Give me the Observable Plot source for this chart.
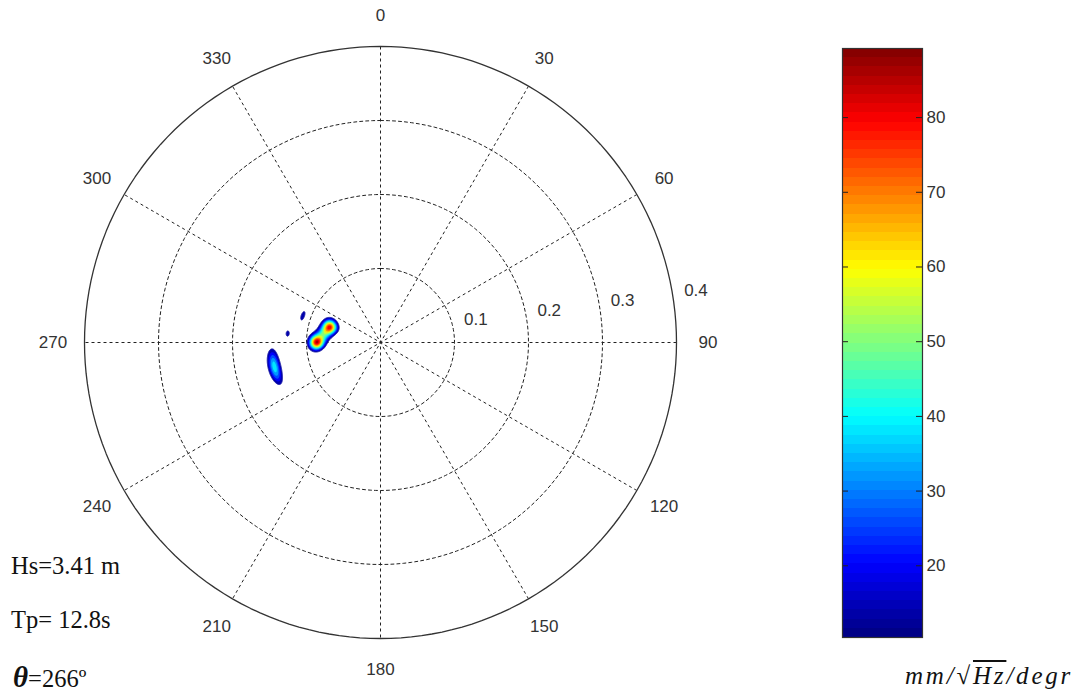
<!DOCTYPE html>
<html>
<head>
<meta charset="utf-8">
<script src="https://cdn.jsdelivr.net/npm/d3@7"></script>
<script src="https://cdn.jsdelivr.net/npm/@observablehq/plot@0.6"></script>
<style>
  html, body { margin: 0; padding: 0; background: #fff; }
  #wrap { position: relative; width: 1078px; height: 696px; background: #fff; overflow: hidden; }
  #wrap > .layer { position: absolute; left: 0; top: 0; }
  .unit { position: absolute; left: 905px; top: 663px; font-family: "Liberation Serif", "DejaVu Serif", serif;
          font-style: italic; font-size: 25px; line-height: 1; color: #111; white-space: nowrap; letter-spacing: 2.8px; }
  .unit .ov { text-decoration: overline; }
</style>
</head>
<body>
<div id="wrap"></div>
<script>
// Polar grid: frequency rings (Hz), spokes (degrees) and direction labels
const ringValues = [0.1, 0.2, 0.3, 0.4];
const spokeAngles = [0, 30, 60, 90, 120, 150];
const directionLabels = [0, 30, 60, 90, 120, 150, 180, 210, 240, 270, 300, 330];

// Spectral peaks: direction (deg, clockwise from north), frequency (Hz),
// peak density, frequency spread (Hz) and directional spread (deg)
const peakDirection = [287, 270, 277.6, 257, 289, 275.5];
const peakFrequency = [0.0716, 0.0865, 0.0783, 0.147, 0.111, 0.126];
const peakDensity = [80, 82, 34, 42, 17, 16.5];
const peakFreqSpread = [0.0068, 0.0068, 0.0070, 0.0059, 0.0036, 0.0036];
const peakDirSpread = [5.4, 4.5, 5.2, 6.5, 4.9, 2.8];

// Contour levels and colour bar
const contourLevels = [14, 20, 26, 32, 38, 44, 50, 56, 62, 68, 74, 80, 86];
const colorDomain = [10.4, 89.25];
const colorTicks = [20, 30, 40, 50, 60, 70, 80];

// Annotations
const statsLines = ["Hs=3.41 m", "Tp= 12.8s"];
const meanDirection = "=266º";

// MATLAB-style jet colormap
function jet(t) {
  const c = v => Math.max(0, Math.min(1, v));
  const r = c(1.5 - Math.abs(4 * t - 3));
  const g = c(1.5 - Math.abs(4 * t - 2));
  const b = c(1.5 - Math.abs(4 * t - 1));
  return `rgb(${Math.round(r * 255)},${Math.round(g * 255)},${Math.round(b * 255)})`;
}
const colorOpts = {type: "linear", domain: colorDomain, interpolate: jet};

const rad = Math.PI / 180;
const toXY = (deg, f) => [f * Math.sin(deg * rad), f * Math.cos(deg * rad)];

// Directional spectrum sampled on a Cartesian grid around the peaks
const gx1 = -0.2, gx2 = 0.0, gy1 = -0.1, gy2 = 0.1, nx = 400, ny = 400;
const grid = new Float64Array(nx * ny);
for (let j = 0; j < ny; ++j) {
  const y = gy1 + (j + 0.5) * (gy2 - gy1) / ny;
  for (let i = 0; i < nx; ++i) {
    const x = gx1 + (i + 0.5) * (gx2 - gx1) / nx;
    const f = Math.hypot(x, y);
    const dir = (Math.atan2(x, y) / rad + 360) % 360;
    let v = 0;
    for (let k = 0; k < peakDirection.length; ++k) {
      let dd = dir - peakDirection[k];
      dd = ((dd + 540) % 360) - 180;
      const df = f - peakFrequency[k];
      v += peakDensity[k] * Math.exp(-(df * df) / (2 * peakFreqSpread[k] ** 2) - (dd * dd) / (2 * peakDirSpread[k] ** 2));
    }
    grid[j * nx + i] = v;
  }
}

// Grid geometry
const rings = ringValues.flatMap(r => d3.range(0, 361, 2).map(a => {
  const [x, y] = toXY(a, r);
  return {ring: r, x, y};
}));
const spokes = spokeAngles.map(a => {
  const [x, y] = toXY(a, 0.4);
  return {x1: x, y1: y, x2: -x, y2: -y};
});
const dirLabelData = directionLabels.map(a => {
  const [x, y] = toXY(a, 0.4425);
  return {a, x, y};
});
const ringLabelData = ringValues.map(r => {
  const [x, y] = toXY(82.5, r);
  return {r, x, y};
});

const textStyle = {fontFamily: "'Liberation Sans', Arial, sans-serif", fontSize: "17px", background: "transparent", overflow: "visible"};

const polar = Plot.plot({
  width: 1078, height: 696,
  marginLeft: 84, marginRight: 402, marginTop: 46, marginBottom: 58,
  x: {domain: [-0.4, 0.4], axis: null},
  y: {domain: [-0.4, 0.4], axis: null},
  color: colorOpts,
  style: textStyle,
  marks: [
    Plot.line(rings.filter(d => d.ring < 0.4), {x: "x", y: "y", z: "ring", stroke: "#222", strokeWidth: 1, strokeDasharray: "3,3"}),
    Plot.link(spokes, {x1: "x1", y1: "y1", x2: "x2", y2: "y2", stroke: "#222", strokeWidth: 1, strokeDasharray: "3,3"}),
    Plot.line(rings.filter(d => d.ring === 0.4), {x: "x", y: "y", stroke: "#333", strokeWidth: 1.3}),
    Plot.contour(grid, {width: nx, height: ny, x1: gx1, x2: gx2, y1: gy1, y2: gy2, fill: Plot.identity, thresholds: contourLevels}),
    Plot.contour(grid, {width: nx, height: ny, x1: gx1, x2: gx2, y1: gy1, y2: gy2, value: Plot.identity, thresholds: [14], fill: "none", stroke: "#1a1aa8", strokeWidth: 1}),
    Plot.text(dirLabelData, {x: "x", y: "y", text: d => String(d.a), fill: "#333", textAnchor: "middle", lineAnchor: "middle"}),
    Plot.text(ringLabelData, {x: "x", y: "y", text: d => String(d.r), fill: "#333", textAnchor: "middle", lineAnchor: "middle", dx: 22, dy: -13})
  ]
});
polar.classList.add("layer");

// Colour bar: 64 discrete bands like a MATLAB colorbar
const nBands = 64;
const bands = d3.range(nBands).map(i => {
  const lo = colorDomain[0] + i * (colorDomain[1] - colorDomain[0]) / nBands;
  const hi = colorDomain[0] + (i + 1) * (colorDomain[1] - colorDomain[0]) / nBands;
  return {lo, hi, mid: (lo + hi) / 2};
});
const colorbar = Plot.plot({
  width: 1078, height: 696,
  marginLeft: 842, marginRight: 156, marginTop: 48, marginBottom: 59,
  x: {domain: [0, 1], axis: null},
  y: {domain: colorDomain, axis: null},
  color: colorOpts,
  style: textStyle,
  marks: [
    Plot.rect(bands, {x1: 0, x2: 1, y1: "lo", y2: "hi", fill: "mid", shapeRendering: "crispEdges"}),
    Plot.ruleY(colorTicks, {x1: 0, x2: 0.075, stroke: "#222"}),
    Plot.ruleY(colorTicks, {x1: 0.925, x2: 1, stroke: "#222"}),
    Plot.text(colorTicks, {x: 1, y: d => d, text: d => String(d), textAnchor: "start", dx: 4, fill: "#333"}),
    Plot.frame({stroke: "#333", strokeWidth: 1.2})
  ]
});
colorbar.classList.add("layer");

const wrap = document.getElementById("wrap");
wrap.appendChild(polar);
wrap.appendChild(colorbar);

// Sea-state annotations
const ns = "http://www.w3.org/2000/svg";
const ann = document.createElementNS(ns, "svg");
ann.setAttribute("width", 1078);
ann.setAttribute("height", 696);
ann.setAttribute("class", "layer");
const serif = "'Liberation Serif', 'Times New Roman', serif";
const baselines = [574, 628];
statsLines.forEach((s, i) => {
  const t = document.createElementNS(ns, "text");
  t.setAttribute("x", 11);
  t.setAttribute("y", baselines[i]);
  t.setAttribute("font-family", serif);
  t.setAttribute("font-size", 24.5);
  t.setAttribute("fill", "#111");
  t.textContent = s;
  ann.appendChild(t);
});
const th = document.createElementNS(ns, "text");
th.setAttribute("x", 13);
th.setAttribute("y", 687);
th.setAttribute("font-family", serif);
th.setAttribute("fill", "#111");
const thSym = document.createElementNS(ns, "tspan");
thSym.setAttribute("font-size", 29);
thSym.setAttribute("font-style", "italic");
thSym.setAttribute("font-weight", "bold");
thSym.textContent = "θ";
const thVal = document.createElementNS(ns, "tspan");
thVal.setAttribute("font-size", 24.5);
thVal.textContent = meanDirection;
th.appendChild(thSym);
th.appendChild(thVal);
ann.appendChild(th);
wrap.appendChild(ann);

// Colour bar units
const unit = document.createElement("div");
unit.className = "unit";
unit.innerHTML = 'mm/√<span class="ov">Hz</span>/degr';
wrap.appendChild(unit);
</script>
</body>
</html>
